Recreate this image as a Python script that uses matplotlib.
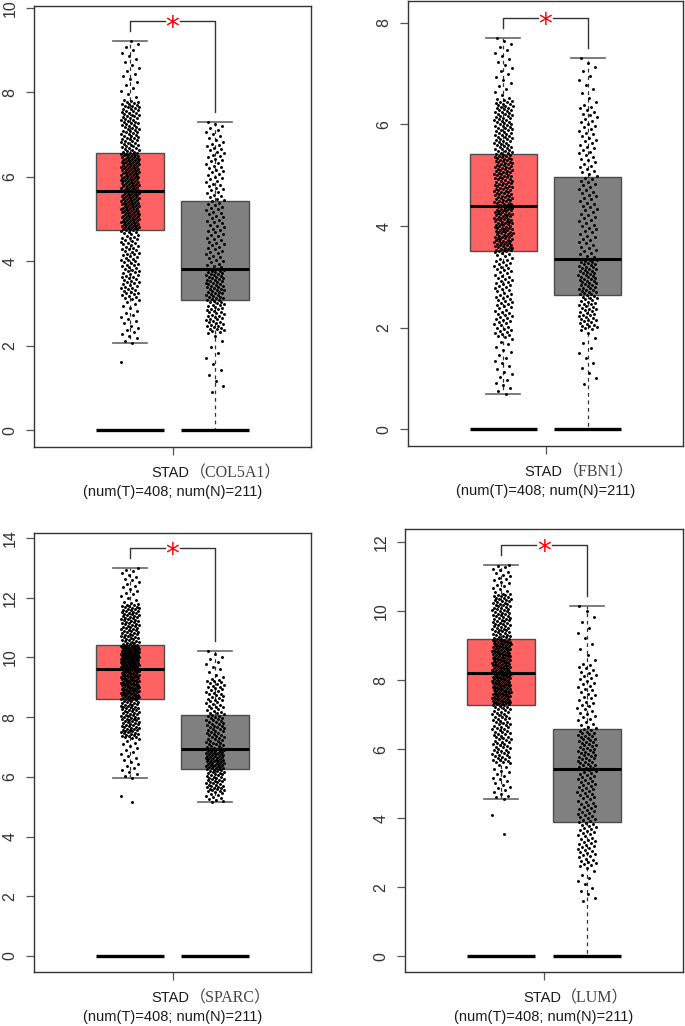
import numpy as np
import matplotlib.pyplot as plt

# expression values (log2(TPM + 1))
genes = ['COL5A1', 'FBN1', 'SPARC', 'LUM']
n_tumor = 408
n_normal = 211

tumor_lo = [2.07, 0.70, 5.95, 4.55]
tumor_p05 = [3.10, 1.80, 7.30, 5.60]
tumor_q1 = [4.73, 3.50, 8.60, 7.28]
tumor_med = [5.65, 4.40, 9.60, 8.22]
tumor_q3 = [6.57, 5.42, 10.43, 9.20]
tumor_p95 = [7.80, 6.50, 11.80, 10.50]
tumor_hi = [9.20, 7.70, 13.00, 11.35]
tumor_outliers = [[1.62], [], [5.35, 5.15], [4.10, 3.55]]

normal_whislo = [0.0, 0.0, 5.15, 0.0]
normal_lo = [0.90, 0.90, 5.15, 1.60]
normal_p05 = [2.30, 1.95, 5.50, 2.60]
normal_q1 = [3.07, 2.65, 6.25, 3.88]
normal_med = [3.82, 3.35, 6.93, 5.42]
normal_q3 = [5.43, 4.97, 8.08, 6.58]
normal_p95 = [6.80, 6.40, 9.30, 8.50]
normal_hi = [7.30, 7.30, 10.20, 10.15]

y_limits = [(-0.40, 10.04), (-0.33, 8.44), (-0.54, 14.17), (-0.46, 12.38)]
y_ticks = [np.arange(0, 11, 2), np.arange(0, 9, 2), np.arange(0, 15, 2), np.arange(0, 13, 2)]

# panel frames in pixels (left, top, right, bottom)
frames = [(34, 6, 311, 447), (408, 0.5, 683, 446), (34, 533, 311, 972), (405, 529, 683, 972)]

W, H = 685, 1026
TUMOR_COLOR = '#ff6262'
NORMAL_COLOR = '#808080'
PHI = (np.sqrt(5) - 1) / 2
JITTER = 0.22


def spread(n, vals, seed):
    """Values spread along the quantile curve given by the read percentiles, with jitter in x."""
    probs = [0, 0.05, 0.25, 0.5, 0.75, 0.95, 1.0]
    y = np.interp(np.linspace(0, 1, n), probs, vals)
    x = ((np.arange(n) + seed) * PHI) % 1.0
    return (x - 0.5) * JITTER, y


fig = plt.figure(figsize=(W / 100, H / 100), dpi=100)

for i, gene in enumerate(genes):
    l, t, r, b = frames[i]
    ax = fig.add_axes([l / W, 1 - b / H, (r - l) / W, (b - t) / H])
    ylo, yhi = y_limits[i]
    ax.set_xlim(-0.13, 3.13)
    ax.set_ylim(ylo, yhi)
    dpp = (yhi - ylo) / (b - t)

    stats = [
        dict(whislo=tumor_lo[i], q1=tumor_q1[i], med=tumor_med[i], q3=tumor_q3[i], whishi=tumor_hi[i]),
        dict(whislo=normal_whislo[i], q1=normal_q1[i], med=normal_med[i], q3=normal_q3[i], whishi=normal_hi[i]),
    ]
    bp = ax.bxp(stats, positions=[1, 2], widths=0.8, capwidths=0.4, patch_artist=True, showfliers=False,
                boxprops=dict(edgecolor='#4d4d4d', linewidth=1.0),
                whiskerprops=dict(color='#333333', linewidth=0.9, linestyle=(0, (3, 3))),
                capprops=dict(color='#666666', linewidth=1.2),
                medianprops=dict(color='black', linewidth=2.2), zorder=2)
    bp['boxes'][0].set_facecolor(TUMOR_COLOR)
    bp['boxes'][1].set_facecolor(NORMAL_COLOR)

    # thick lines at zero under each box
    ax.hlines([0, 0], [0.6, 1.6], [1.4, 2.4], color='black', linewidth=2.4, zorder=3)

    # points
    jx, jy = spread(n_tumor - len(tumor_outliers[i]),
                    [tumor_lo[i], tumor_p05[i], tumor_q1[i], tumor_med[i], tumor_q3[i], tumor_p95[i], tumor_hi[i]], 1)
    ax.scatter(1 + jx, jy, s=4.5, color='black', linewidths=0, zorder=4)
    out = tumor_outliers[i]
    if out:
        ax.scatter(1 + (np.arange(len(out)) * PHI % 1 - 0.5) * JITTER, out, s=4.5, color='black',
                   linewidths=0, zorder=4)
    jx, jy = spread(n_normal,
                    [normal_lo[i], normal_p05[i], normal_q1[i], normal_med[i], normal_q3[i], normal_p95[i], normal_hi[i]], 7)
    ax.scatter(2 + jx, jy, s=4.5, color='black', linewidths=0, zorder=4)

    # significance bracket
    top = tumor_hi[i] + 20 * dpp
    ax.plot([1, 1, 1.41], [top - 10 * dpp, top, top], color='#333333', linewidth=1.0)
    ax.plot([1.59, 2, 2], [top, top, normal_hi[i] + 10 * dpp], color='#333333', linewidth=1.0)
    ax.text(1.5, top - 7 * dpp, '*', color='red', fontsize=20, ha='center', va='center',
            family='DejaVu Sans')

    # axes styling
    for sp in ax.spines.values():
        sp.set_color('#333333')
        sp.set_linewidth(1.0)
    ax.set_yticks(y_ticks[i])
    ax.set_yticklabels([str(v) for v in y_ticks[i]], rotation=90, va='center', family='Liberation Sans',
                       fontsize=11.5, color='#333333')
    ax.tick_params(axis='y', direction='out', length=6, width=0.9, color='#555555', pad=6)
    ax.set_xticks([1.5])
    ax.set_xticklabels([''])
    ax.tick_params(axis='x', direction='out', length=6, width=0.9, color='#555555')

    stad = ax.annotate('STAD', xy=(1.5, 0), xycoords=ax.get_xaxis_transform(), xytext=(-21, -26),
                       textcoords='offset pixels', ha='left', va='center', fontsize=10.5,
                       family='Liberation Sans', color='#1a1a1a')
    ax.annotate('\uff08' + gene + '\uff09', xy=(1, 0.5), xycoords=stad, xytext=(0, 0),
                textcoords='offset pixels', ha='left', va='center', fontsize=11.5,
                family=['Liberation Serif', 'Noto Sans CJK SC'], color='#444444')
    ax.annotate('(num(T)=%d; num(N)=%d)' % (n_tumor, n_normal), xy=(1.5, 0),
                xycoords=ax.get_xaxis_transform(), xytext=(0, -45), textcoords='offset pixels',
                ha='center', va='center', fontsize=10.5, family='Liberation Sans', color='#1a1a1a')

fig.savefig('out.png', dpi=100)
